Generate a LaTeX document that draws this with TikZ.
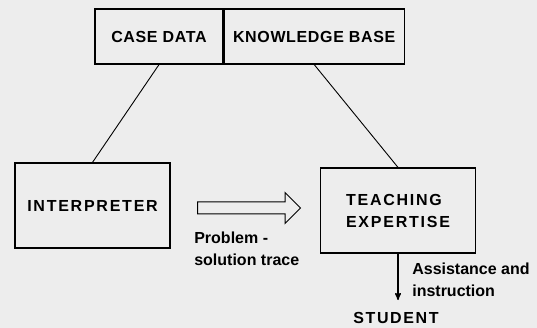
\documentclass[tikz,border=0pt]{standalone}
\usepackage{fontspec}
\setmainfont{Liberation Sans}
\usetikzlibrary{arrows,shapes,positioning}

\begin{document}
\begin{tikzpicture}[x=1pt,y=-1pt,semithick,>=stealth']
        \tikzstyle{every node}=[font=\fontsize{16}{22}\selectfont\bfseries]
        \tikzstyle{box}=[draw, rectangle, line width=1.2pt, inner sep=0pt,
                         font=\fontsize{16}{22}\selectfont\bfseries\addfontfeatures{LetterSpace=4}]
        \tikzstyle{widebox}=[box, font=\fontsize{16}{22}\selectfont\bfseries\addfontfeatures{LetterSpace=11}]
        \tikzstyle{note}=[align=left, inner sep=0pt]

        \fill[black!7] (0,0) rectangle (537,328);
        \useasboundingbox (0,0) rectangle (537,328);

        \node[box, minimum width=128pt, minimum height=55pt] (casedata) at (159,36.5) {CASE DATA};
        \node[box, minimum width=180pt, minimum height=55pt, right=0pt of casedata] (kbase) {KNOWLEDGE BASE};
        \node[widebox, minimum width=155pt, minimum height=85pt] (interp)   at (92.5,205.5) {INTERPRETER};
        \node[widebox, minimum width=155pt, minimum height=85pt, align=left] (teach) at (398,210.5) {TEACHING\\EXPERTISE};
        \node[single arrow, draw, line width=1pt, minimum height=103pt, minimum width=30pt,
              single arrow head extend=9.5pt, inner xsep=0pt, inner ysep=5.5pt] (trace) at (246,208) {};
        \node[note, anchor=north west] (tracelbl) at (194,232) {Problem -\\solution trace};
        \node[box, draw=none, anchor=base, font=\fontsize{16}{22}\selectfont\bfseries\addfontfeatures{LetterSpace=10}] (student) at (396,323) {STUDENT};
        \node[note, anchor=north west] (assist) at (412,263) {Assistance and\\instruction};

        \draw[line width=0.9pt] (casedata.south) -- (interp.north);
        \draw[line width=0.9pt] (kbase.south) -- (teach.north);
        \draw[->, line width=1.4pt] (teach.south) -- (teach.south |- 0,300);
\end{tikzpicture}
\end{document}
